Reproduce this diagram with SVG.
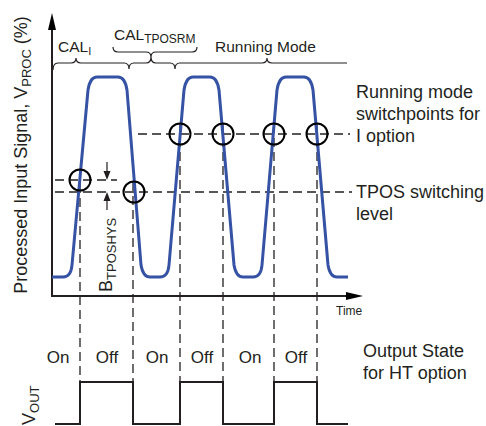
<svg xmlns="http://www.w3.org/2000/svg" width="486" height="426" viewBox="0 0 486 426">
<style>
text{font-family:"Liberation Sans",Arial,sans-serif;fill:#231f20}
.lbl{font-size:18px}
.top{font-size:15.5px}
.st{font-size:17px;text-anchor:middle}
.dash{fill:none;stroke:#231f20;stroke-width:1.3;stroke-dasharray:9 5}
.axis{fill:none;stroke:#231f20;stroke-width:2}
.circ{fill:none;stroke:#000;stroke-width:2}
.thin{fill:none;stroke:#231f20;stroke-width:1.2}
</style>
<rect width="486" height="426" fill="#fff"/>
<g id="connectors">
<path class="dash" d="M138,134H350M55,180H117M55,192H352"/>
<path class="dash" d="M80,170V382M133,182V382M180,124V382M223,124V382M274,124V382M317,124V382"/>
<path id="brace-lower" class="thin" d="M53,70Q53,63 58,63H71Q76,63 76,58Q76,63 81,63H124Q129,63 129,69Q129,63 134,63H146Q151,63 151,57Q151,63 156,63H170Q175,63 175,69Q175,63 180,63H262Q267,63 267,58Q267,63 272,63H347"/>
<path id="brace-upper" class="thin" d="M113,47Q113,52 118,52H146Q151,52 151,57Q151,52 156,52H192Q197,52 197,47"/>
<path class="thin" d="M107,162V172M107,200V210"/>
<polygon points="103.5,171 110.5,171 107,180" fill="#231f20"/>
<polygon points="103.5,201 110.5,201 107,192" fill="#231f20"/>
</g>
<g id="axes">
<path class="axis" d="M52,28V296H348"/>
<polygon points="52,13 56,30 48,30" fill="#000"/>
<polygon points="363,296 346,292 346,300" fill="#000"/>
</g>
<g id="signal">
<path fill="none" stroke="#3552a5" stroke-width="3" stroke-linejoin="round" d="M52,277H63Q71,277 72,265L88,90Q90,77 97,77H118Q125,77 127,90L141,265Q143,277 150,277H160Q168,277 169,265L184,90Q186,77 193,77H210Q217,77 219,90L234,265Q236,277 243,277H253Q261,277 262,265L277,90Q279,77 286,77H304Q311,77 313,90L328,265Q330,277 337,277H348"/>
</g>
<g id="switchpoints">
<circle class="circ" cx="80" cy="180" r="10.5"/>
<circle class="circ" cx="134" cy="192" r="10.5"/>
<circle class="circ" cx="180" cy="134" r="10.5"/>
<circle class="circ" cx="223" cy="134" r="10.5"/>
<circle class="circ" cx="274" cy="134" r="10.5"/>
<circle class="circ" cx="317" cy="134" r="10.5"/>
</g>
<g id="output">
<path fill="none" stroke="#231f20" stroke-width="2" d="M55,424H80V382H133V424H180V382H223V424H274V382H317V424H348"/>
</g>
<g id="labels">
<text class="top" x="58" y="52">CAL<tspan font-size="11" dy="3">I</tspan></text>
<text class="top" x="114" y="40">CAL<tspan font-size="12" dy="3">TPOSRM</tspan></text>
<text class="top" x="215" y="52">Running Mode</text>
<text class="lbl" x="356" y="98">Running mode</text>
<text class="lbl" x="356" y="120">switchpoints for</text>
<text class="lbl" x="356" y="142">I option</text>
<text class="lbl" x="356" y="198">TPOS switching</text>
<text class="lbl" x="356" y="220">level</text>
<text class="lbl" x="363" y="357">Output State</text>
<text class="lbl" x="363" y="379">for HT option</text>
<text x="336" y="315" font-size="12">Time</text>
<text class="lbl" transform="translate(27,155) rotate(-90)" text-anchor="middle">Processed Input Signal, V<tspan font-size="13" dy="4">PROC</tspan><tspan dy="-4"> (%)</tspan></text>
<text class="lbl" transform="translate(35,425) rotate(-90)">V<tspan font-size="13" dy="4">OUT</tspan></text>
<text class="lbl" transform="translate(112,292) rotate(-90)">B<tspan font-size="13" dy="4">TPOSHYS</tspan></text>
<text class="st" x="58" y="363">On</text>
<text class="st" x="107" y="363">Off</text>
<text class="st" x="157" y="363">On</text>
<text class="st" x="202" y="363">Off</text>
<text class="st" x="250" y="363">On</text>
<text class="st" x="296" y="363">Off</text>
</g>
</svg>
